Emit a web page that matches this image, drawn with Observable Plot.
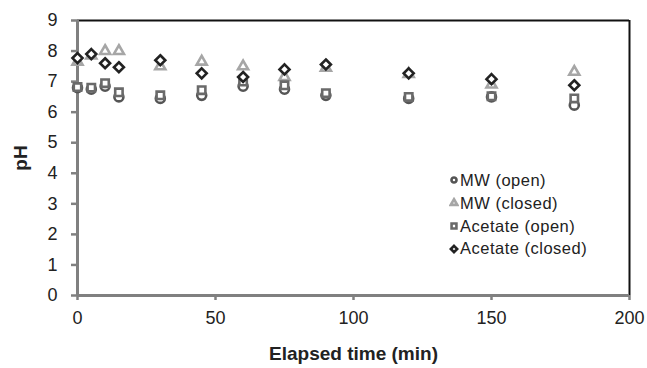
<!DOCTYPE html>
<html>
<head>
<meta charset="utf-8">
<script src="https://cdn.jsdelivr.net/npm/d3@7"></script>
<script src="https://cdn.jsdelivr.net/npm/@observablehq/plot@0.6"></script>
<style>
  html, body { margin: 0; padding: 0; background: #fff; }
  #wrap { position: relative; width: 647px; height: 368px; font-family: "Liberation Sans", Arial, sans-serif; }
  #wrap svg text { font-family: "Liberation Sans", Arial, sans-serif; }
  #legend { position: absolute; left: 449px; top: 169px; font-size: 16.5px; letter-spacing: 0.5px; color: #222; line-height: 22.8px; }
  #legend .row { display: flex; align-items: center; white-space: nowrap; }
  #legend svg { margin-right: 1px; }
</style>
</head>
<body>
<div id="wrap"></div>
<script>
const times = [0, 5, 10, 15, 30, 45, 60, 75, 90, 120, 150, 180];
const mwOpen = [6.8, 6.75, 6.85, 6.5, 6.45, 6.55, 6.85, 6.75, 6.55, 6.45, 6.5, 6.23];
const mwClosed = [7.65, 7.85, 8.0, 8.0, 7.5, 7.65, 7.5, 7.15, 7.45, 7.25, 6.9, 7.32];
const acetateOpen = [6.82, 6.8, 6.95, 6.65, 6.55, 6.72, 7.0, 6.88, 6.62, 6.5, 6.52, 6.45];
const acetateClosed = [7.77, 7.9, 7.6, 7.47, 7.7, 7.27, 7.15, 7.4, 7.56, 7.27, 7.08, 6.88];
const seriesNames = ["MW (open)", "MW (closed)", "Acetate (open)", "Acetate (closed)"];
const xTicks = [0, 50, 100, 150, 200];
const yTicks = [0, 1, 2, 3, 4, 5, 6, 7, 8, 9];

const styles = [
  {values: mwOpen, symbol: "circle", stroke: "#555555", r: 4.5},
  {values: mwClosed, symbol: "triangle2", stroke: "#a6a6a6", r: 4.8},
  {values: acetateOpen, symbol: "square2", stroke: "#6a6a6a", r: 4.7},
  {values: acetateClosed, symbol: "diamond2", stroke: "#222222", r: 4.5}
];

const rows = (vals) => times.map((t, i) => ({t, v: vals[i]}));

const dotMarks = styles.map(s => Plot.dot(rows(s.values), {
  x: "t", y: "v", symbol: () => s.symbol, stroke: s.stroke, fill: "white", strokeWidth: 2.6, r: s.r
}));

const chart = Plot.plot({
  width: 647,
  height: 368,
  marginLeft: 77,
  marginRight: 18,
  marginTop: 20,
  marginBottom: 73,
  style: {background: "white", color: "#222", fontSize: "18px"},
  x: {domain: [0, 200]},
  y: {domain: [0, 9]},
  symbol: {type: "identity"},
  marks: [
    Plot.ruleY([9], {stroke: "#111", strokeWidth: 2}),
    Plot.ruleX([200], {stroke: "#111", strokeWidth: 2}),
    Plot.axisX({ticks: xTicks, tickSize: 5, tickFormat: () => "", stroke: "#808080", strokeWidth: 2.5, label: null}),
    Plot.axisY({ticks: yTicks, tickSize: 6, tickFormat: () => "", stroke: "#808080", strokeWidth: 2.5, label: null}),
    Plot.text(xTicks, {x: d => d, frameAnchor: "bottom", dy: 23, lineAnchor: "middle", textAnchor: "middle", fontSize: 18, fill: "#222"}),
    Plot.text(yTicks, {y: d => d, frameAnchor: "left", dx: -20, textAnchor: "end", lineAnchor: "middle", fontSize: 18, fill: "#222"}),
    Plot.axisX({ticks: [], tickSize: 0, label: "Elapsed time (min)", labelAnchor: "center", labelArrow: "none", labelOffset: 64, fontWeight: "bold", fontSize: 19}),
    Plot.axisY({ticks: [], tickSize: 0, label: "pH", labelAnchor: "center", labelArrow: "none", labelOffset: 64, fontWeight: "bold", fontSize: 19}),
    Plot.ruleX([0], {stroke: "#808080", strokeWidth: 3}),
    Plot.ruleY([0], {stroke: "#808080", strokeWidth: 3}),
    ...dotMarks
  ]
});

const wrap = document.getElementById("wrap");
wrap.appendChild(chart);
d3.select(chart).selectAll('g[aria-label$="axis label"] text').style("font-size", "19px").style("font-weight", "bold");

// legend
const legend = document.createElement("div");
legend.id = "legend";
const symPaths = {
  circle: d3.symbol(d3.symbolCircle, 20)(),
  triangle2: d3.symbol(d3.symbolTriangle2, 30)(),
  square2: d3.symbol(d3.symbolSquare2, 30)(),
  diamond2: d3.symbol(d3.symbolDiamond2, 26)()
};
styles.forEach((s, i) => {
  const row = document.createElement("div");
  row.className = "row";
  row.innerHTML = `<svg width="10" height="12" viewBox="-5 -6 10 12"><path d="${symPaths[s.symbol]}" fill="white" stroke="${s.stroke}" stroke-width="2.6"/></svg><span>${seriesNames[i]}</span>`;
  legend.appendChild(row);
});
wrap.appendChild(legend);
</script>
</body>
</html>
